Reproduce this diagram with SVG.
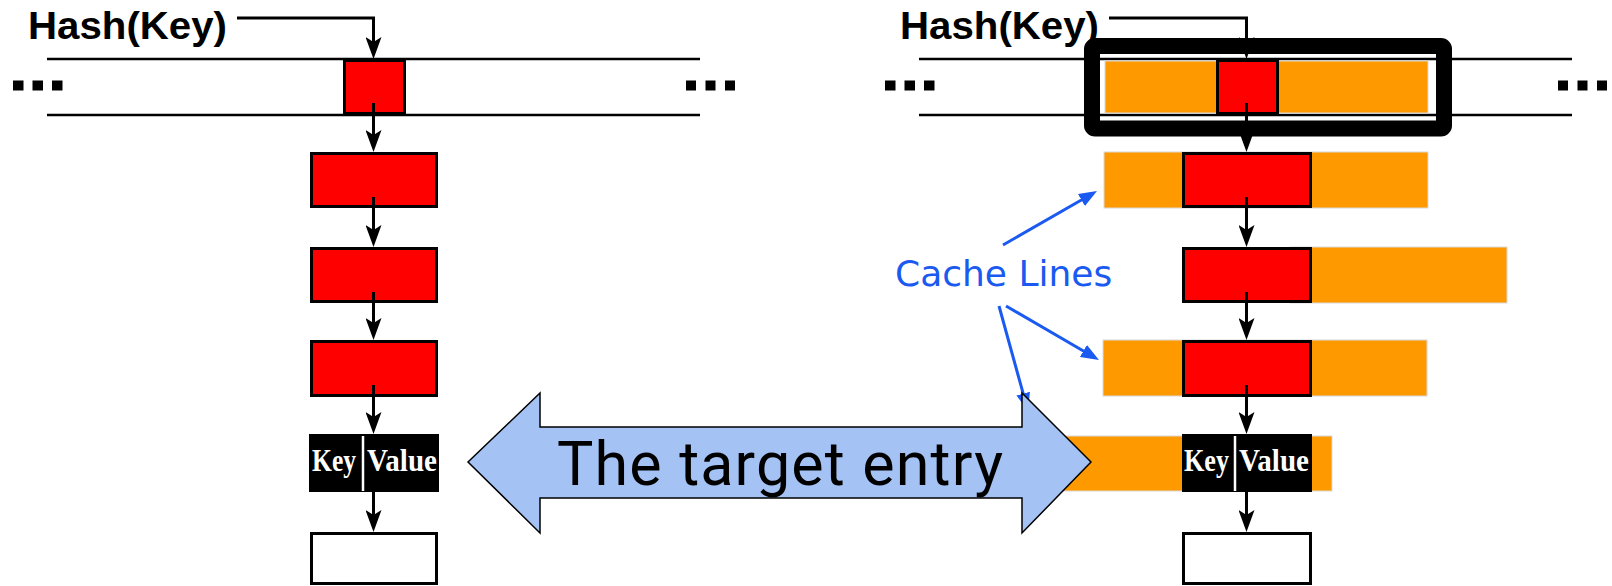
<svg xmlns="http://www.w3.org/2000/svg" width="1612" height="586" viewBox="0 0 1612 586">
  <style>
    .rail { stroke: #000; stroke-width: 2.5; fill: none; }
    .dot { fill: #000; }
    .red { fill: #ff0000; stroke: #000; stroke-width: 3; }
    .white { fill: #fff; stroke: #000; stroke-width: 3; }
    .kv { fill: #000; }
    .div { stroke: #fff; stroke-width: 2.5; }
    .cache { fill: #ff9900; stroke: #d9d9d9; stroke-width: 1; }
    .link { stroke: #000; stroke-width: 3; fill: none; marker-end: url(#ah); }
    .call { stroke: #1a5af0; stroke-width: 3; fill: none; marker-end: url(#bh); }
    .hash { font-family: "Liberation Sans", Arial, sans-serif; font-weight: bold; font-size: 39px; fill: #000; }
    .kvt { font-family: "Liberation Serif", "Times New Roman", serif; font-weight: bold; font-size: 31px; fill: #fff; }
  </style>
  <defs>
    <marker id="ah" viewBox="0 0 22 16" refX="10" refY="8" markerWidth="22" markerHeight="16" markerUnits="userSpaceOnUse" orient="auto">
      <path d="M0,0 L22,8 L0,16 L5,8 Z" fill="#000"/>
    </marker>
    <marker id="bh" viewBox="0 0 18 14" refX="6" refY="7" markerWidth="18" markerHeight="14" markerUnits="userSpaceOnUse" orient="auto">
      <path d="M0,0 L18,7 L0,14 Z" fill="#1a5af0"/>
    </marker>
  </defs>

  <!-- hash table rails -->
  <g id="rail-left">
    <line class="rail" x1="47" y1="59" x2="700" y2="59"/>
    <line class="rail" x1="47" y1="115" x2="700" y2="115"/>
    <rect class="dot" x="13" y="80.5" width="10.5" height="10"/>
    <rect class="dot" x="32.5" y="80.5" width="10.5" height="10"/>
    <rect class="dot" x="52" y="80.5" width="10.5" height="10"/>
    <rect class="dot" x="686" y="80.5" width="10" height="10"/>
    <rect class="dot" x="705.5" y="80.5" width="10" height="10"/>
    <rect class="dot" x="725" y="80.5" width="10" height="10"/>
  </g>
  <g id="rail-right">
    <line class="rail" x1="919" y1="59" x2="1572" y2="59"/>
    <line class="rail" x1="919" y1="115" x2="1572" y2="115"/>
    <rect class="dot" x="885" y="80.5" width="10.5" height="10"/>
    <rect class="dot" x="904.5" y="80.5" width="10.5" height="10"/>
    <rect class="dot" x="924" y="80.5" width="10.5" height="10"/>
    <rect class="dot" x="1558" y="80.5" width="10" height="10"/>
    <rect class="dot" x="1577.5" y="80.5" width="10" height="10"/>
    <rect class="dot" x="1597" y="80.5" width="10" height="10"/>
  </g>

  <!-- cache lines around each entry -->
  <g id="cache-lines">
    <rect class="cache" x="1105" y="61" width="323" height="52"/>
    <rect class="cache" x="1104" y="152" width="324" height="56"/>
    <rect class="cache" x="1290" y="247" width="217" height="56"/>
    <rect class="cache" x="1103" y="340" width="324" height="56"/>
    <rect class="cache" x="1010" y="436" width="322" height="55"/>
  </g>

  <!-- left chain -->
  <g id="bucket-left"><rect class="red" x="344.5" y="60.5" width="60" height="53"/></g>
  <g id="node-l1"><rect class="red" x="311.5" y="153.5" width="125" height="53"/></g>
  <g id="node-l2"><rect class="red" x="311.5" y="248.5" width="125" height="53"/></g>
  <g id="node-l3"><rect class="red" x="311.5" y="341.5" width="125" height="54"/></g>
  <g id="entry-left">
    <rect class="kv" x="309" y="434" width="130" height="58"/>
    <line class="div" x1="363" y1="436" x2="363" y2="491"/>
    <text class="kvt" x="312" y="471" textLength="44" lengthAdjust="spacingAndGlyphs">Key</text>
    <text class="kvt" x="367" y="471" textLength="70" lengthAdjust="spacingAndGlyphs">Value</text>
  </g>
  <g id="node-l5"><rect class="white" x="311.5" y="533.5" width="125" height="50"/></g>

  <!-- right chain -->
  <g id="bucket-right"><rect class="red" x="1217.5" y="60.5" width="60" height="53"/></g>
  <g id="node-r1"><rect class="red" x="1183.5" y="153.5" width="127" height="53"/></g>
  <g id="node-r2"><rect class="red" x="1183.5" y="248.5" width="127" height="53"/></g>
  <g id="node-r3"><rect class="red" x="1183.5" y="341.5" width="127" height="54"/></g>
  <g id="entry-right">
    <rect class="kv" x="1182" y="434" width="130" height="58"/>
    <line class="div" x1="1235" y1="436" x2="1235" y2="491"/>
    <text class="kvt" x="1184" y="471" textLength="45" lengthAdjust="spacingAndGlyphs">Key</text>
    <text class="kvt" x="1239" y="471" textLength="70" lengthAdjust="spacingAndGlyphs">Value</text>
  </g>
  <g id="node-r5"><rect class="white" x="1183.5" y="533.5" width="127" height="50"/></g>

  <!-- bucket cache line outline -->
  <g id="bucket-frame">
    <rect x="1092" y="46" width="352" height="82.5" rx="3" fill="none" stroke="#000" stroke-width="16"/>
  </g>

  <!-- chain links -->
  <g id="connectors">
    <polyline class="link" points="237,18 373.5,18 373.5,47"/>
    <line class="link" x1="373.5" y1="103" x2="373.5" y2="140"/>
    <line class="link" x1="373.5" y1="197" x2="373.5" y2="235"/>
    <line class="link" x1="373.5" y1="292" x2="373.5" y2="328"/>
    <line class="link" x1="373.5" y1="385" x2="373.5" y2="422"/>
    <line class="link" x1="373.5" y1="480" x2="373.5" y2="520"/>

    <polyline class="link" points="1109,18 1246.5,18 1246.5,47"/>
    <line class="link" x1="1246.5" y1="103" x2="1246.5" y2="140"/>
    <line class="link" x1="1246.5" y1="197" x2="1246.5" y2="235"/>
    <line class="link" x1="1246.5" y1="292" x2="1246.5" y2="328"/>
    <line class="link" x1="1246.5" y1="385" x2="1246.5" y2="422"/>
    <line class="link" x1="1246.5" y1="480" x2="1246.5" y2="520"/>
  </g>

  <!-- "Cache Lines" callout arrows -->
  <g id="callouts">
    <line class="call" x1="1003" y1="245" x2="1086.6" y2="197"/>
    <line class="call" x1="1006" y1="306" x2="1088.6" y2="354"/>
    <line class="call" x1="999" y1="306" x2="1024.8" y2="399.4"/>
  </g>

  <!-- double arrow linking the two target entries -->
  <g id="target-arrow">
    <polygon points="468,462 540,393 540,427 1022,427 1022,393 1091,462 1022,533 1022,498 540,498 540,533" fill="#a4c2f4" stroke="#000" stroke-width="1.5" stroke-linejoin="miter"/>
    <text x="780" y="485" text-anchor="middle" font-family="Roboto, 'Liberation Sans', sans-serif" font-size="61" fill="#000" textLength="446">The target entry</text>
  </g>

  <g id="labels">
    <text class="hash" x="28" y="39" textLength="199" lengthAdjust="spacingAndGlyphs">Hash(Key)</text>
    <text class="hash" x="900" y="39" textLength="199" lengthAdjust="spacingAndGlyphs">Hash(Key)</text>
    <text x="895" y="286" font-family="'DejaVu Sans', sans-serif" font-size="36" fill="#1a5af0">Cache Lines</text>
  </g>
</svg>
